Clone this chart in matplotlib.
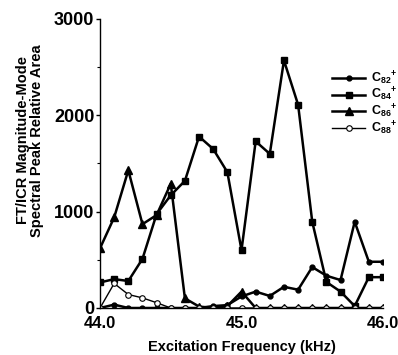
import matplotlib
matplotlib.use('Agg')
import matplotlib.pyplot as plt
import numpy as np

plt.rcParams['font.family'] = ['Liberation Sans', 'DejaVu Sans']
plt.rcParams['font.weight'] = 'bold'
plt.rcParams['mathtext.fontset'] = 'custom'
plt.rcParams['mathtext.rm'] = 'Liberation Sans:bold'
plt.rcParams['mathtext.it'] = 'Liberation Sans:bold'
plt.rcParams['mathtext.bf'] = 'Liberation Sans:bold'

# excitation frequency, kHz (0.1 kHz steps)
freq = [44.0, 44.1, 44.2, 44.3, 44.4, 44.5, 44.6, 44.7, 44.8, 44.9, 45.0,
        45.1, 45.2, 45.3, 45.4, 45.5, 45.6, 45.7, 45.8, 45.9, 46.0]

c82 = [0, 35, 0, 0, 0, 0, 0, 0, 20, 30, 120,
       170, 125, 220, 190, 425, 335, 290, 895, 480, 480]
c84 = [265, 300, 280, 510, 975, 1170, 1320, 1780, 1650, 1410, 600,
       1730, 1600, 2570, 2110, 895, 270, 170, 20, 320, 320]
c86 = [620, 940, 1430, 870, 965, 1290, 100, 15, 0, 20, 170,
       0, 0, 0, 0, 0, 0, 0, 0, 0, 0]
c88 = [0, 255, 140, 105, 55, 0, 0, 0, 0, 0, 0,
       0, 0, 0, 0, 0, 0, 0, 0, 0, 0]

labels = [r'C$_{82}$$^{+}$', r'C$_{84}$$^{+}$', r'C$_{86}$$^{+}$', r'C$_{88}$$^{+}$']

fig = plt.figure(figsize=(3.98, 3.55), dpi=100)
ax = fig.add_axes([0.2513, 0.1324, 0.7110, 0.8141])

ax.plot(freq, c82, '-o', color='black', lw=1.8, ms=3.5, label=labels[0])
ax.plot(freq, c84, '-s', color='black', lw=1.8, ms=5, label=labels[1])
ax.plot(freq, c86, '-^', color='black', lw=1.8, ms=6, label=labels[2])
ax.plot(freq, c88, '-o', color='black', lw=1.0, ms=4, mfc='white', mew=0.8, label=labels[3])

ax.set_xlim(44.0, 46.0)
ax.set_ylim(0, 3000)
ax.spines['top'].set_visible(False)
ax.spines['right'].set_visible(False)
ax.spines['left'].set_linewidth(1.0)
ax.spines['bottom'].set_linewidth(1.0)

ax.set_xticks([44.0, 45.0, 46.0])
ax.set_xticklabels(['44.0', '45.0', '46.0'])
ax.set_yticks([0, 1000, 2000, 3000])
ax.set_yticks([500, 1500, 2500], minor=True)
ax.tick_params(axis='y', which='major', labelsize=13, length=3, width=1, pad=1)
ax.tick_params(axis='y', which='minor', length=2, width=0.8)
ax.tick_params(axis='x', labelsize=12, length=0, pad=6)

ax.set_xlabel('Excitation Frequency (kHz)', fontsize=10.5, fontweight='bold', labelpad=6)
fig.text(0.075, 0.605, 'FT/ICR Magnitude-Mode\nSpectral Peak Relative Area',
         rotation=90, ha='center', va='center', fontsize=10.5, fontweight='bold',
         linespacing=1.0)

ax.legend(loc='upper left', bbox_to_anchor=(0.835, 0.805), bbox_transform=fig.transFigure,
          frameon=False, fontsize=9, handlelength=2.6, handletextpad=0.5,
          labelspacing=-0.05, borderaxespad=0, borderpad=0)

fig.savefig('out.png', dpi=100)
